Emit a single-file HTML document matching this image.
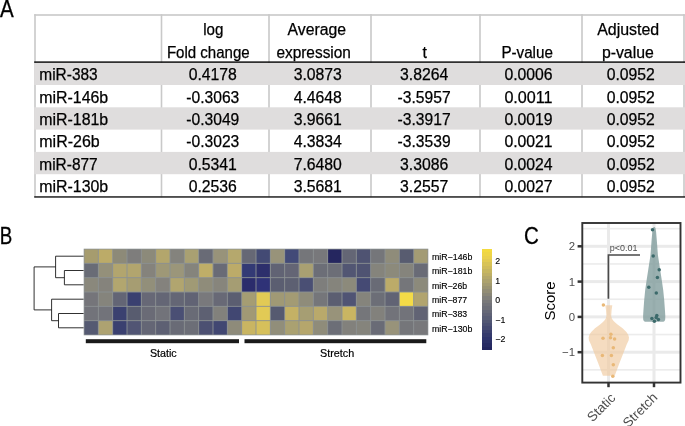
<!DOCTYPE html>
<html><head><meta charset="utf-8"><title>Figure</title>
<style>
html,body{margin:0;padding:0;background:#fff;}
body{width:685px;height:426px;overflow:hidden;}
svg{display:block;}
text{font-family:"Liberation Sans",Arial,Helvetica,sans-serif;}
</style></head><body>
<svg width="685" height="426" viewBox="0 0 685 426">
<rect width="685" height="426" fill="#fff"/>
<g font-size="23.4" fill="#000" stroke="#000" stroke-width="0.3">
<text x="0" y="16.6" textLength="13.7" lengthAdjust="spacingAndGlyphs">A</text>
<text x="-0.2" y="243.6" textLength="12.5" lengthAdjust="spacingAndGlyphs">B</text>
<text x="523.9" y="243.5" textLength="14.8" lengthAdjust="spacingAndGlyphs">C</text>
</g>
<g>
<rect x="34.2" y="14.2" width="1.6" height="183.1" fill="#c9c9c9"/>
<rect x="160.7" y="14.2" width="1.6" height="183.1" fill="#c9c9c9"/>
<rect x="268.2" y="14.2" width="1.6" height="183.1" fill="#c9c9c9"/>
<rect x="370.2" y="14.2" width="1.6" height="183.1" fill="#c9c9c9"/>
<rect x="479.2" y="14.2" width="1.6" height="183.1" fill="#c9c9c9"/>
<rect x="581.2" y="14.2" width="1.6" height="183.1" fill="#c9c9c9"/>
<rect x="683.2" y="14.2" width="1.6" height="183.1" fill="#c9c9c9"/>
<rect x="34.2" y="14.2" width="650.6" height="1.6" fill="#c9c9c9"/>
<rect x="34.2" y="62.70" width="650.8" height="22.30" fill="#dfdddd"/>
<rect x="34.2" y="107.30" width="650.8" height="22.30" fill="#dfdddd"/>
<rect x="34.2" y="151.90" width="650.8" height="22.30" fill="#dfdddd"/>
<rect x="34.2" y="196.2" width="650.8" height="1.5" fill="#222"/>
<rect x="34.2" y="61.4" width="650.8" height="1.4" fill="#000"/>
</g>
<g font-size="16" fill="#000" stroke="#000" stroke-width="0.25">
<text x="203.2" y="35.0" textLength="20.2" lengthAdjust="spacingAndGlyphs">log</text>
<text x="166.9" y="57.5" textLength="82.8" lengthAdjust="spacingAndGlyphs">Fold change</text>
<text x="287.6" y="35.0" textLength="58.5" lengthAdjust="spacingAndGlyphs">Average</text>
<text x="276.4" y="57.5" textLength="74.5" lengthAdjust="spacingAndGlyphs">expression</text>
<text x="422.6" y="57.5" textLength="4.4" lengthAdjust="spacingAndGlyphs">t</text>
<text x="501.4" y="57.5" textLength="51.5" lengthAdjust="spacingAndGlyphs">P-value</text>
<text x="597.2" y="35.0" textLength="62.0" lengthAdjust="spacingAndGlyphs">Adjusted</text>
<text x="601.9" y="57.5" textLength="51.9" lengthAdjust="spacingAndGlyphs">p-value</text>
<text x="39.3" y="80.1" textLength="58.4" lengthAdjust="spacingAndGlyphs">miR-383</text>
<text x="188.7" y="80.1" textLength="48.2" lengthAdjust="spacingAndGlyphs">0.4178</text>
<text x="293.7" y="80.1" textLength="48.2" lengthAdjust="spacingAndGlyphs">3.0873</text>
<text x="400.0" y="80.1" textLength="48.2" lengthAdjust="spacingAndGlyphs">3.8264</text>
<text x="504.4" y="80.1" textLength="48.2" lengthAdjust="spacingAndGlyphs">0.0006</text>
<text x="606.7" y="80.1" textLength="48.2" lengthAdjust="spacingAndGlyphs">0.0952</text>
<text x="39.3" y="102.5" textLength="68.9" lengthAdjust="spacingAndGlyphs">miR-146b</text>
<text x="186.3" y="102.5" textLength="53.0" lengthAdjust="spacingAndGlyphs">-0.3063</text>
<text x="293.7" y="102.5" textLength="48.2" lengthAdjust="spacingAndGlyphs">4.4648</text>
<text x="397.6" y="102.5" textLength="53.0" lengthAdjust="spacingAndGlyphs">-3.5957</text>
<text x="504.4" y="102.5" textLength="48.2" lengthAdjust="spacingAndGlyphs">0.0011</text>
<text x="606.7" y="102.5" textLength="48.2" lengthAdjust="spacingAndGlyphs">0.0952</text>
<text x="39.3" y="124.9" textLength="68.9" lengthAdjust="spacingAndGlyphs">miR-181b</text>
<text x="186.3" y="124.9" textLength="53.0" lengthAdjust="spacingAndGlyphs">-0.3049</text>
<text x="293.7" y="124.9" textLength="48.2" lengthAdjust="spacingAndGlyphs">3.9661</text>
<text x="397.6" y="124.9" textLength="53.0" lengthAdjust="spacingAndGlyphs">-3.3917</text>
<text x="504.4" y="124.9" textLength="48.2" lengthAdjust="spacingAndGlyphs">0.0019</text>
<text x="606.7" y="124.9" textLength="48.2" lengthAdjust="spacingAndGlyphs">0.0952</text>
<text x="39.3" y="147.4" textLength="60.4" lengthAdjust="spacingAndGlyphs">miR-26b</text>
<text x="186.3" y="147.4" textLength="53.0" lengthAdjust="spacingAndGlyphs">-0.3023</text>
<text x="293.7" y="147.4" textLength="48.2" lengthAdjust="spacingAndGlyphs">4.3834</text>
<text x="397.6" y="147.4" textLength="53.0" lengthAdjust="spacingAndGlyphs">-3.3539</text>
<text x="504.4" y="147.4" textLength="48.2" lengthAdjust="spacingAndGlyphs">0.0021</text>
<text x="606.7" y="147.4" textLength="48.2" lengthAdjust="spacingAndGlyphs">0.0952</text>
<text x="39.3" y="169.8" textLength="58.4" lengthAdjust="spacingAndGlyphs">miR-877</text>
<text x="188.7" y="169.8" textLength="48.2" lengthAdjust="spacingAndGlyphs">0.5341</text>
<text x="293.7" y="169.8" textLength="48.2" lengthAdjust="spacingAndGlyphs">7.6480</text>
<text x="400.0" y="169.8" textLength="48.2" lengthAdjust="spacingAndGlyphs">3.3086</text>
<text x="504.4" y="169.8" textLength="48.2" lengthAdjust="spacingAndGlyphs">0.0024</text>
<text x="606.7" y="169.8" textLength="48.2" lengthAdjust="spacingAndGlyphs">0.0952</text>
<text x="39.3" y="192.2" textLength="68.9" lengthAdjust="spacingAndGlyphs">miR-130b</text>
<text x="188.7" y="192.2" textLength="48.2" lengthAdjust="spacingAndGlyphs">0.2536</text>
<text x="293.7" y="192.2" textLength="48.2" lengthAdjust="spacingAndGlyphs">3.5681</text>
<text x="400.0" y="192.2" textLength="48.2" lengthAdjust="spacingAndGlyphs">3.2557</text>
<text x="504.4" y="192.2" textLength="48.2" lengthAdjust="spacingAndGlyphs">0.0027</text>
<text x="606.7" y="192.2" textLength="48.2" lengthAdjust="spacingAndGlyphs">0.0952</text>
</g>
<g>
<rect x="83.7" y="248.7" width="344.59" height="86.60" fill="#8c9193"/>
<rect x="84.45" y="249.45" width="13.43" height="13.43" fill="#a69c6e"/><rect x="98.78" y="249.45" width="13.43" height="13.43" fill="#bcab68"/><rect x="113.12" y="249.45" width="13.43" height="13.43" fill="#8d8a78"/><rect x="127.45" y="249.45" width="13.43" height="13.43" fill="#7e7d7c"/><rect x="141.78" y="249.45" width="13.43" height="13.43" fill="#8c8a7a"/><rect x="156.12" y="249.45" width="13.43" height="13.43" fill="#b3a66c"/><rect x="170.45" y="249.45" width="13.43" height="13.43" fill="#84837d"/><rect x="184.78" y="249.45" width="13.43" height="13.43" fill="#a9a072"/><rect x="199.11" y="249.45" width="13.43" height="13.43" fill="#696b76"/><rect x="213.45" y="249.45" width="13.43" height="13.43" fill="#98937a"/><rect x="227.78" y="249.45" width="13.43" height="13.43" fill="#b5a86d"/><rect x="242.11" y="249.45" width="13.43" height="13.43" fill="#666875"/><rect x="256.45" y="249.45" width="13.43" height="13.43" fill="#434a74"/><rect x="270.78" y="249.45" width="13.43" height="13.43" fill="#98937a"/><rect x="285.11" y="249.45" width="13.43" height="13.43" fill="#424a78"/><rect x="299.44" y="249.45" width="13.43" height="13.43" fill="#75767a"/><rect x="313.78" y="249.45" width="13.43" height="13.43" fill="#78787b"/><rect x="328.11" y="249.45" width="13.43" height="13.43" fill="#25265f"/><rect x="342.44" y="249.45" width="13.43" height="13.43" fill="#646675"/><rect x="356.78" y="249.45" width="13.43" height="13.43" fill="#4f5372"/><rect x="371.11" y="249.45" width="13.43" height="13.43" fill="#75767a"/><rect x="385.44" y="249.45" width="13.43" height="13.43" fill="#8f8c7a"/><rect x="399.78" y="249.45" width="13.43" height="13.43" fill="#585c70"/><rect x="414.11" y="249.45" width="13.43" height="13.43" fill="#a39b74"/>
<rect x="84.45" y="263.78" width="13.43" height="13.43" fill="#696c76"/><rect x="98.78" y="263.78" width="13.43" height="13.43" fill="#94907a"/><rect x="113.12" y="263.78" width="13.43" height="13.43" fill="#b2a56e"/><rect x="127.45" y="263.78" width="13.43" height="13.43" fill="#b2a56e"/><rect x="141.78" y="263.78" width="13.43" height="13.43" fill="#85837c"/><rect x="156.12" y="263.78" width="13.43" height="13.43" fill="#9e9877"/><rect x="170.45" y="263.78" width="13.43" height="13.43" fill="#9b967a"/><rect x="184.78" y="263.78" width="13.43" height="13.43" fill="#85847c"/><rect x="199.11" y="263.78" width="13.43" height="13.43" fill="#bfae68"/><rect x="213.45" y="263.78" width="13.43" height="13.43" fill="#696b76"/><rect x="227.78" y="263.78" width="13.43" height="13.43" fill="#bcab69"/><rect x="242.11" y="263.78" width="13.43" height="13.43" fill="#333a75"/><rect x="256.45" y="263.78" width="13.43" height="13.43" fill="#2d2f6c"/><rect x="270.78" y="263.78" width="13.43" height="13.43" fill="#616374"/><rect x="285.11" y="263.78" width="13.43" height="13.43" fill="#646575"/><rect x="299.44" y="263.78" width="13.43" height="13.43" fill="#a9a072"/><rect x="313.78" y="263.78" width="13.43" height="13.43" fill="#6c6e77"/><rect x="328.11" y="263.78" width="13.43" height="13.43" fill="#6c6e77"/><rect x="342.44" y="263.78" width="13.43" height="13.43" fill="#525673"/><rect x="356.78" y="263.78" width="13.43" height="13.43" fill="#4f5372"/><rect x="371.11" y="263.78" width="13.43" height="13.43" fill="#85847c"/><rect x="385.44" y="263.78" width="13.43" height="13.43" fill="#8c8a7b"/><rect x="399.78" y="263.78" width="13.43" height="13.43" fill="#85847c"/><rect x="414.11" y="263.78" width="13.43" height="13.43" fill="#696b76"/>
<rect x="84.45" y="278.12" width="13.43" height="13.43" fill="#8a887c"/><rect x="98.78" y="278.12" width="13.43" height="13.43" fill="#85837c"/><rect x="113.12" y="278.12" width="13.43" height="13.43" fill="#b2a66f"/><rect x="127.45" y="278.12" width="13.43" height="13.43" fill="#a69d72"/><rect x="141.78" y="278.12" width="13.43" height="13.43" fill="#928f7a"/><rect x="156.12" y="278.12" width="13.43" height="13.43" fill="#84827d"/><rect x="170.45" y="278.12" width="13.43" height="13.43" fill="#b1a56f"/><rect x="184.78" y="278.12" width="13.43" height="13.43" fill="#a09a75"/><rect x="199.11" y="278.12" width="13.43" height="13.43" fill="#8f8c7a"/><rect x="213.45" y="278.12" width="13.43" height="13.43" fill="#87857c"/><rect x="227.78" y="278.12" width="13.43" height="13.43" fill="#a59d73"/><rect x="242.11" y="278.12" width="13.43" height="13.43" fill="#2b2c6c"/><rect x="256.45" y="278.12" width="13.43" height="13.43" fill="#2f3277"/><rect x="270.78" y="278.12" width="13.43" height="13.43" fill="#5b5e71"/><rect x="285.11" y="278.12" width="13.43" height="13.43" fill="#5d6072"/><rect x="299.44" y="278.12" width="13.43" height="13.43" fill="#4a4f74"/><rect x="313.78" y="278.12" width="13.43" height="13.43" fill="#7e7e7c"/><rect x="328.11" y="278.12" width="13.43" height="13.43" fill="#85847c"/><rect x="342.44" y="278.12" width="13.43" height="13.43" fill="#8c8a7b"/><rect x="356.78" y="278.12" width="13.43" height="13.43" fill="#454a74"/><rect x="371.11" y="278.12" width="13.43" height="13.43" fill="#696b76"/><rect x="385.44" y="278.12" width="13.43" height="13.43" fill="#bcab69"/><rect x="399.78" y="278.12" width="13.43" height="13.43" fill="#75767a"/><rect x="414.11" y="278.12" width="13.43" height="13.43" fill="#8c8a7b"/>
<rect x="84.45" y="292.45" width="13.43" height="13.43" fill="#75757a"/><rect x="98.78" y="292.45" width="13.43" height="13.43" fill="#85847c"/><rect x="113.12" y="292.45" width="13.43" height="13.43" fill="#636575"/><rect x="127.45" y="292.45" width="13.43" height="13.43" fill="#3a4070"/><rect x="141.78" y="292.45" width="13.43" height="13.43" fill="#676876"/><rect x="156.12" y="292.45" width="13.43" height="13.43" fill="#646675"/><rect x="170.45" y="292.45" width="13.43" height="13.43" fill="#646675"/><rect x="184.78" y="292.45" width="13.43" height="13.43" fill="#616374"/><rect x="199.11" y="292.45" width="13.43" height="13.43" fill="#79797c"/><rect x="213.45" y="292.45" width="13.43" height="13.43" fill="#686976"/><rect x="227.78" y="292.45" width="13.43" height="13.43" fill="#5b5e71"/><rect x="242.11" y="292.45" width="13.43" height="13.43" fill="#a59d73"/><rect x="256.45" y="292.45" width="13.43" height="13.43" fill="#e2ca55"/><rect x="270.78" y="292.45" width="13.43" height="13.43" fill="#a09975"/><rect x="285.11" y="292.45" width="13.43" height="13.43" fill="#a39b74"/><rect x="299.44" y="292.45" width="13.43" height="13.43" fill="#8f8c7a"/><rect x="313.78" y="292.45" width="13.43" height="13.43" fill="#75767a"/><rect x="328.11" y="292.45" width="13.43" height="13.43" fill="#5b5e71"/><rect x="342.44" y="292.45" width="13.43" height="13.43" fill="#505474"/><rect x="356.78" y="292.45" width="13.43" height="13.43" fill="#85847c"/><rect x="371.11" y="292.45" width="13.43" height="13.43" fill="#6c6e77"/><rect x="385.44" y="292.45" width="13.43" height="13.43" fill="#616374"/><rect x="399.78" y="292.45" width="13.43" height="13.43" fill="#f4db47"/><rect x="414.11" y="292.45" width="13.43" height="13.43" fill="#b1a46f"/>
<rect x="84.45" y="306.78" width="13.43" height="13.43" fill="#72737a"/><rect x="98.78" y="306.78" width="13.43" height="13.43" fill="#72737a"/><rect x="113.12" y="306.78" width="13.43" height="13.43" fill="#3b4170"/><rect x="127.45" y="306.78" width="13.43" height="13.43" fill="#585c6f"/><rect x="141.78" y="306.78" width="13.43" height="13.43" fill="#6a6b76"/><rect x="156.12" y="306.78" width="13.43" height="13.43" fill="#72737a"/><rect x="170.45" y="306.78" width="13.43" height="13.43" fill="#4a4f74"/><rect x="184.78" y="306.78" width="13.43" height="13.43" fill="#696b76"/><rect x="199.11" y="306.78" width="13.43" height="13.43" fill="#5d6072"/><rect x="213.45" y="306.78" width="13.43" height="13.43" fill="#82817c"/><rect x="227.78" y="306.78" width="13.43" height="13.43" fill="#414772"/><rect x="242.11" y="306.78" width="13.43" height="13.43" fill="#a19975"/><rect x="256.45" y="306.78" width="13.43" height="13.43" fill="#e2ca55"/><rect x="270.78" y="306.78" width="13.43" height="13.43" fill="#565a70"/><rect x="285.11" y="306.78" width="13.43" height="13.43" fill="#c4b165"/><rect x="299.44" y="306.78" width="13.43" height="13.43" fill="#a69e73"/><rect x="313.78" y="306.78" width="13.43" height="13.43" fill="#b9a96b"/><rect x="328.11" y="306.78" width="13.43" height="13.43" fill="#98937a"/><rect x="342.44" y="306.78" width="13.43" height="13.43" fill="#c9b562"/><rect x="356.78" y="306.78" width="13.43" height="13.43" fill="#75767a"/><rect x="371.11" y="306.78" width="13.43" height="13.43" fill="#82817c"/><rect x="385.44" y="306.78" width="13.43" height="13.43" fill="#72737a"/><rect x="399.78" y="306.78" width="13.43" height="13.43" fill="#72737a"/><rect x="414.11" y="306.78" width="13.43" height="13.43" fill="#616374"/>
<rect x="84.45" y="321.12" width="13.43" height="13.43" fill="#555a72"/><rect x="98.78" y="321.12" width="13.43" height="13.43" fill="#ada271"/><rect x="113.12" y="321.12" width="13.43" height="13.43" fill="#3a4070"/><rect x="127.45" y="321.12" width="13.43" height="13.43" fill="#515574"/><rect x="141.78" y="321.12" width="13.43" height="13.43" fill="#646675"/><rect x="156.12" y="321.12" width="13.43" height="13.43" fill="#5d6073"/><rect x="170.45" y="321.12" width="13.43" height="13.43" fill="#696b76"/><rect x="184.78" y="321.12" width="13.43" height="13.43" fill="#6c6e77"/><rect x="199.11" y="321.12" width="13.43" height="13.43" fill="#4c5072"/><rect x="213.45" y="321.12" width="13.43" height="13.43" fill="#414772"/><rect x="227.78" y="321.12" width="13.43" height="13.43" fill="#8e8b7a"/><rect x="242.11" y="321.12" width="13.43" height="13.43" fill="#c9b562"/><rect x="256.45" y="321.12" width="13.43" height="13.43" fill="#d6c05b"/><rect x="270.78" y="321.12" width="13.43" height="13.43" fill="#918e7a"/><rect x="285.11" y="321.12" width="13.43" height="13.43" fill="#aaa171"/><rect x="299.44" y="321.12" width="13.43" height="13.43" fill="#b5a66c"/><rect x="313.78" y="321.12" width="13.43" height="13.43" fill="#8f8c7a"/><rect x="328.11" y="321.12" width="13.43" height="13.43" fill="#6c6e77"/><rect x="342.44" y="321.12" width="13.43" height="13.43" fill="#82817c"/><rect x="356.78" y="321.12" width="13.43" height="13.43" fill="#85847c"/><rect x="371.11" y="321.12" width="13.43" height="13.43" fill="#696b76"/><rect x="385.44" y="321.12" width="13.43" height="13.43" fill="#98937a"/><rect x="399.78" y="321.12" width="13.43" height="13.43" fill="#75767a"/><rect x="414.11" y="321.12" width="13.43" height="13.43" fill="#78787b"/>
</g>
<g stroke="#1a1a1a" stroke-width="0.9" fill="none" stroke-linecap="butt" stroke-linejoin="miter">
<path d="M83.6 256.2H55.6V277.7H64.4M83.6 270.5H64.4V284.8H83.6"/>
<path d="M83.6 299.2H51.6V320.7H58.5M83.6 313.5H58.5V327.8H83.6"/>
<path d="M55.6 266.9H34.1V309.9H51.6"/>
</g>
<rect x="85.8" y="339.2" width="153.2" height="4" fill="#1a1a1a"/>
<rect x="244.5" y="339.2" width="181.8" height="4" fill="#1a1a1a"/>
<g font-size="11" fill="#000" stroke="#000" stroke-width="0.2">
<text x="149.9" y="356.6" textLength="26.8" lengthAdjust="spacingAndGlyphs">Static</text>
<text x="320.0" y="356.6" textLength="34.2" lengthAdjust="spacingAndGlyphs">Stretch</text>
</g>
<g font-size="8.8" fill="#000" stroke="#000" stroke-width="0.15">
<text x="432.0" y="260.1" textLength="40.3" lengthAdjust="spacingAndGlyphs">miR−146b</text>
<text x="432.0" y="274.4" textLength="40.3" lengthAdjust="spacingAndGlyphs">miR−181b</text>
<text x="432.0" y="288.7" textLength="35.2" lengthAdjust="spacingAndGlyphs">miR−26b</text>
<text x="432.0" y="303.1" textLength="35.2" lengthAdjust="spacingAndGlyphs">miR−877</text>
<text x="432.0" y="317.4" textLength="35.2" lengthAdjust="spacingAndGlyphs">miR−383</text>
<text x="432.0" y="331.7" textLength="40.3" lengthAdjust="spacingAndGlyphs">miR−130b</text>
</g>
<g shape-rendering="crispEdges"><rect x="481.8" y="249.00" width="9.9" height="3.77" fill="#f3da3f"/><rect x="481.8" y="252.37" width="9.9" height="3.77" fill="#eed546"/><rect x="481.8" y="255.73" width="9.9" height="3.77" fill="#e9d04d"/><rect x="481.8" y="259.10" width="9.9" height="3.77" fill="#e2ca52"/><rect x="481.8" y="262.47" width="9.9" height="3.77" fill="#d8c357"/><rect x="481.8" y="265.83" width="9.9" height="3.77" fill="#d0bc5c"/><rect x="481.8" y="269.20" width="9.9" height="3.77" fill="#c6b660"/><rect x="481.8" y="272.57" width="9.9" height="3.77" fill="#beaf65"/><rect x="481.8" y="275.93" width="9.9" height="3.77" fill="#b4a86a"/><rect x="481.8" y="279.30" width="9.9" height="3.77" fill="#aca26d"/><rect x="481.8" y="282.67" width="9.9" height="3.77" fill="#a39b70"/><rect x="481.8" y="286.03" width="9.9" height="3.77" fill="#9a9472"/><rect x="481.8" y="289.40" width="9.9" height="3.77" fill="#928d75"/><rect x="481.8" y="292.77" width="9.9" height="3.77" fill="#898677"/><rect x="481.8" y="296.13" width="9.9" height="3.77" fill="#807f7a"/><rect x="481.8" y="299.50" width="9.9" height="3.77" fill="#79797a"/><rect x="481.8" y="302.87" width="9.9" height="3.77" fill="#727379"/><rect x="481.8" y="306.23" width="9.9" height="3.77" fill="#6c6e78"/><rect x="481.8" y="309.60" width="9.9" height="3.77" fill="#656877"/><rect x="481.8" y="312.97" width="9.9" height="3.77" fill="#5f6276"/><rect x="481.8" y="316.33" width="9.9" height="3.77" fill="#585d75"/><rect x="481.8" y="319.70" width="9.9" height="3.77" fill="#515673"/><rect x="481.8" y="323.07" width="9.9" height="3.77" fill="#4a4f72"/><rect x="481.8" y="326.43" width="9.9" height="3.77" fill="#434870"/><rect x="481.8" y="329.80" width="9.9" height="3.77" fill="#3c416f"/><rect x="481.8" y="333.17" width="9.9" height="3.77" fill="#343a6d"/><rect x="481.8" y="336.53" width="9.9" height="3.77" fill="#2e346c"/><rect x="481.8" y="339.90" width="9.9" height="3.77" fill="#2a2f67"/><rect x="481.8" y="343.27" width="9.9" height="3.77" fill="#262a63"/><rect x="481.8" y="346.63" width="9.9" height="3.77" fill="#22255e"/></g>
<g font-size="8.8" fill="#000" stroke="#000" stroke-width="0.12">
<text x="495.3" y="264.3">2</text>
<text x="495.3" y="283.7">1</text>
<text x="495.3" y="303.1">0</text>
<text x="495.3" y="322.8">−1</text>
<text x="495.3" y="342.4">−2</text>
</g>
<g>
<rect x="582.3" y="223.0" width="98.2" height="159.6" fill="#fff"/>
<rect x="582.3" y="369.05" width="98.2" height="1.6" fill="#ececec"/>
<rect x="582.3" y="333.75" width="98.2" height="1.6" fill="#ececec"/>
<rect x="582.3" y="298.45" width="98.2" height="1.6" fill="#ececec"/>
<rect x="582.3" y="263.15" width="98.2" height="1.6" fill="#ececec"/>
<rect x="582.3" y="227.85" width="98.2" height="1.6" fill="#ececec"/>
<rect x="582.3" y="350.70" width="98.2" height="3.0" fill="#eaeaea"/>
<rect x="582.3" y="315.40" width="98.2" height="3.0" fill="#eaeaea"/>
<rect x="582.3" y="280.10" width="98.2" height="3.0" fill="#eaeaea"/>
<rect x="582.3" y="244.80" width="98.2" height="3.0" fill="#eaeaea"/>
<rect x="607.00" y="223.0" width="3.0" height="159.6" fill="#eaeaea"/>
<rect x="652.50" y="223.0" width="3.0" height="159.6" fill="#eaeaea"/>
<path d="M612.3 305.3 L611.6 310.0 L611.2 316.0 L611.8 318.5 L613.4 320.7 L615.2 322.5 L617.5 324.4 L622.6 328.2 L626.4 332.0 L628.2 334.8 L629.0 337.6 L628.6 340.4 L626.8 344.2 L623.7 352.2 L619.3 363.5 L614.7 375.8 L602.9 375.8 L598.3 363.5 L593.9 352.2 L590.8 344.2 L589.0 340.4 L588.6 337.6 L589.4 334.8 L591.2 332.0 L595.0 328.2 L600.1 324.4 L602.4 322.5 L604.2 320.7 L605.8 318.5 L606.4 316.0 L606.0 310.0 L605.3 305.3Z" fill="#f0c99c" fill-opacity="0.64" stroke="none" stroke-linejoin="round"/>
<path d="M654.6 227.0 L655.5 228.0 L656.1 232.0 L656.8 240.0 L657.9 255.0 L660.2 270.0 L661.6 279.0 L663.2 290.0 L664.2 300.0 L665.0 311.0 L665.3 316.0 L665.2 319.5 L664.6 321.0 L663.4 321.7 L645.0 321.7 L643.8 321.0 L643.2 319.5 L643.1 316.0 L643.4 311.0 L644.2 300.0 L645.2 290.0 L646.8 279.0 L648.2 270.0 L650.5 255.0 L651.6 240.0 L652.3 232.0 L652.9 228.0 L653.8 227.0Z" fill="#7d9a99" fill-opacity="0.77" stroke="none" stroke-linejoin="round"/>
<circle cx="603.4" cy="305.1" r="1.75" fill="#e9b877"/><circle cx="610.9" cy="334.2" r="1.75" fill="#e9b877"/><circle cx="603" cy="338.3" r="1.75" fill="#e9b877"/><circle cx="610.5" cy="337.8" r="1.75" fill="#e9b877"/><circle cx="614.6" cy="339.1" r="1.75" fill="#e9b877"/><circle cx="613.3" cy="347.7" r="1.75" fill="#e9b877"/><circle cx="602.4" cy="355.5" r="1.75" fill="#e9b877"/><circle cx="611.4" cy="355.5" r="1.75" fill="#e9b877"/><circle cx="613.3" cy="364.7" r="1.75" fill="#e9b877"/><circle cx="612.8" cy="376.3" r="1.75" fill="#e9b877"/>
<circle cx="652.5" cy="229.7" r="1.75" fill="#3c6a6b"/><circle cx="653.2" cy="256" r="1.75" fill="#3c6a6b"/><circle cx="659.2" cy="269.7" r="1.75" fill="#3c6a6b"/><circle cx="657.4" cy="277.5" r="1.75" fill="#3c6a6b"/><circle cx="648.8" cy="287.3" r="1.75" fill="#3c6a6b"/><circle cx="656.3" cy="293" r="1.75" fill="#3c6a6b"/><circle cx="656.8" cy="315.4" r="1.75" fill="#3c6a6b"/><circle cx="656.2" cy="317.6" r="1.75" fill="#3c6a6b"/><circle cx="658.4" cy="319.4" r="1.75" fill="#3c6a6b"/><circle cx="651.9" cy="318.5" r="1.75" fill="#3c6a6b"/><circle cx="654.4" cy="321.3" r="1.75" fill="#3c6a6b"/>
<path d="M608.4 298.8V255H640" fill="none" stroke="#4a4a4a" stroke-width="1.6"/>
<text x="609.7" y="250.9" font-size="8.6" fill="#4d4d4d" textLength="27.7" lengthAdjust="spacingAndGlyphs">p&lt;0.01</text>
<rect x="582.3" y="223.0" width="98.2" height="159.6" fill="none" stroke="#333" stroke-width="1.9"/>
<rect x="577.6" y="350.95" width="4.4" height="2.5" fill="#333"/>
<rect x="577.6" y="315.65" width="4.4" height="2.5" fill="#333"/>
<rect x="577.6" y="280.35" width="4.4" height="2.5" fill="#333"/>
<rect x="577.6" y="245.05" width="4.4" height="2.5" fill="#333"/>
<rect x="607.25" y="382.6" width="2.5" height="4.6" fill="#333"/>
<rect x="652.75" y="382.6" width="2.5" height="4.6" fill="#333"/>
<g font-size="11.4" fill="#4d4d4d" text-anchor="end">
<text x="575" y="250.2">2</text>
<text x="575" y="285.5">1</text>
<text x="575" y="320.8">0</text>
<text x="575" y="356.1">−1</text>
</g>
<text transform="translate(555.3 301) rotate(-90)" text-anchor="middle" font-size="15" fill="#000">Score</text>
<g font-size="13.4" fill="#4d4d4d" text-anchor="end">
<text transform="translate(616.3 398.8) rotate(-45)">Static</text>
<text transform="translate(658.3 398.3) rotate(-45)">Stretch</text>
</g>
</g>
</svg>
</body></html>
